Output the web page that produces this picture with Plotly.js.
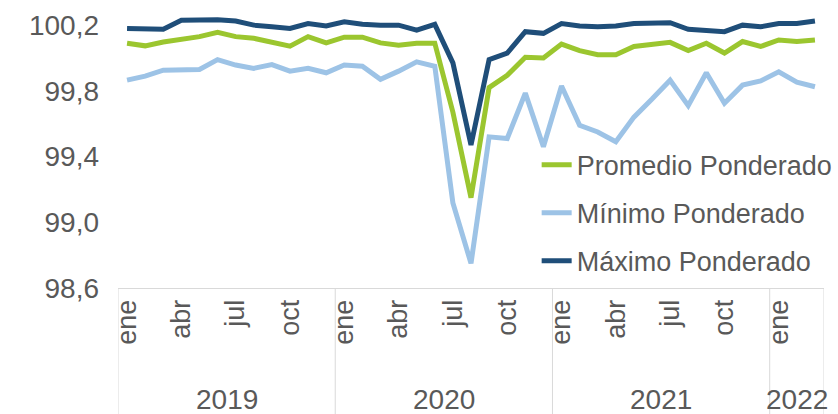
<!DOCTYPE html>
<html>
<head>
<meta charset="utf-8">
<script src="https://cdn.plot.ly/plotly-3.0.1.min.js"></script>
<style>
  html, body { margin: 0; padding: 0; background: #fff; }
  #chart { width: 838px; height: 414px; }
</style>
</head>
<body>
<div id="chart"></div>
<script>
// datos mensuales ene 2019 - mar 2022
var meses = ['ene', 'feb', 'mar', 'abr', 'may', 'jun', 'jul', 'ago', 'sep', 'oct', 'nov', 'dic'];
var anios = ['2019', '2020', '2021', '2022'];
var mesesPorAnio = [12, 12, 12, 3];

var promedio = [100.09, 100.074, 100.097, 100.115, 100.13, 100.157, 100.13, 100.12, 100.097, 100.072, 100.13, 100.092,
    100.127, 100.127, 100.092, 100.078, 100.09, 100.09, 99.67, 99.15, 99.82, 99.895, 100.005, 100.0,
    100.085, 100.045, 100.02, 100.02, 100.07, 100.085, 100.095, 100.045, 100.09, 100.03, 100.10, 100.07,
    100.11, 100.10, 100.11];
var minimo = [99.865, 99.89, 99.926, 99.926, 99.93, 99.99, 99.957, 99.937, 99.96, 99.92, 99.937, 99.91,
    99.957, 99.95, 99.87, 99.92, 99.977, 99.95, 99.117, 98.75, 99.52, 99.51, 99.786, 99.46,
    99.83, 99.59, 99.55, 99.49, 99.64, 99.75, 99.865, 99.71, 99.91, 99.725, 99.835, 99.86,
    99.916, 99.853, 99.825];
var maximo = [100.18, 100.18, 100.175, 100.23, 100.23, 100.233, 100.225, 100.20, 100.19, 100.18, 100.21, 100.195,
    100.22, 100.205, 100.20, 100.20, 100.17, 100.205, 99.97, 99.47, 99.99, 100.03, 100.16, 100.15,
    100.21, 100.195, 100.19, 100.195, 100.21, 100.21, 100.215, 100.175, 100.17, 100.16, 100.20, 100.19,
    100.21, 100.21, 100.225];

var yTicks = [98.6, 99.0, 99.4, 99.8, 100.2];

// posiciones en el eje (indice de mes) y etiquetas cada 3 meses
var xIdx = promedio.map(function (v, i) { return i; });
var tickVals = [], tickText = [];
xIdx.forEach(function (i) {
    if (i % 3 === 0) {
        tickVals.push(i);
        tickText.push(meses[i % 12]);
    }
});

var gris = '#595959';
var fuente = 'Liberation Sans, Arial, sans-serif';

var data = [{
    name: 'Promedio Ponderado',
    x: xIdx,
    y: promedio,
    type: 'scatter',
    mode: 'lines',
    legendgroup: 'a',
    line: { color: '#9BC62F', width: 5 }
}, {
    name: 'Mínimo Ponderado',
    x: xIdx,
    y: minimo,
    type: 'scatter',
    mode: 'lines',
    legendgroup: 'b',
    line: { color: '#9DC3E6', width: 5 }
}, {
    name: 'Máximo Ponderado',
    x: xIdx,
    y: maximo,
    type: 'scatter',
    mode: 'lines',
    legendgroup: 'c',
    line: { color: '#1F4E79', width: 5 }
}];

// separadores de anio y etiquetas de anio
var shapes = [];
var annotations = [];
var inicio = 0;
shapes.push({
    type: 'line', xref: 'x', yref: 'paper',
    x0: inicio - 0.5, x1: inicio - 0.5, y0: 0, y1: -0.47,
    line: { color: '#d9d9d9', width: 1 }
});
anios.forEach(function (a, k) {
    var fin = inicio + mesesPorAnio[k];
    shapes.push({
        type: 'line', xref: 'x', yref: 'paper',
        x0: fin - 0.5, x1: fin - 0.5, y0: 0, y1: -0.47,
        line: { color: '#d9d9d9', width: 1 }
    });
    annotations.push({
        xref: 'x', yref: 'paper',
        x: (inicio + fin - 1) / 2, y: -0.405,
        text: a, showarrow: false,
        yanchor: 'middle', xanchor: 'center',
        font: { family: fuente, size: 28, color: gris }
    });
    inicio = fin;
});

var layout = {
    width: 838,
    height: 414,
    margin: { l: 118, r: 14, t: 12, b: 126, autoexpand: false },
    paper_bgcolor: '#fff',
    plot_bgcolor: '#fff',
    separators: ',.',
    showlegend: true,
    legend: {
        x: 0.593, y: 0.534,
        xanchor: 'left', yanchor: 'top',
        bgcolor: 'rgba(0,0,0,0)',
        tracegroupgap: 10,
        font: { family: fuente, size: 27, color: gris }
    },
    xaxis: {
        range: [-0.5, promedio.length - 0.5],
        tickvals: tickVals,
        ticktext: tickText,
        tickangle: -90,
        ticks: '',
        showgrid: false,
        zeroline: false,
        showline: true,
        linecolor: '#d9d9d9',
        linewidth: 1,
        ticklabelstandoff: 0,
        tickfont: { family: fuente, size: 27, color: gris },
        fixedrange: true
    },
    yaxis: {
        range: [98.6, 100.28],
        tickvals: yTicks,
        tickformat: '.1f',
        ticks: '',
        showgrid: false,
        zeroline: false,
        showline: false,
        ticklabelstandoff: 18,
        tickfont: { family: fuente, size: 28, color: gris },
        fixedrange: true
    },
    shapes: shapes,
    annotations: annotations
};

Plotly.newPlot('chart', data, layout, { displayModeBar: false, staticPlot: true });
</script>
</body>
</html>
